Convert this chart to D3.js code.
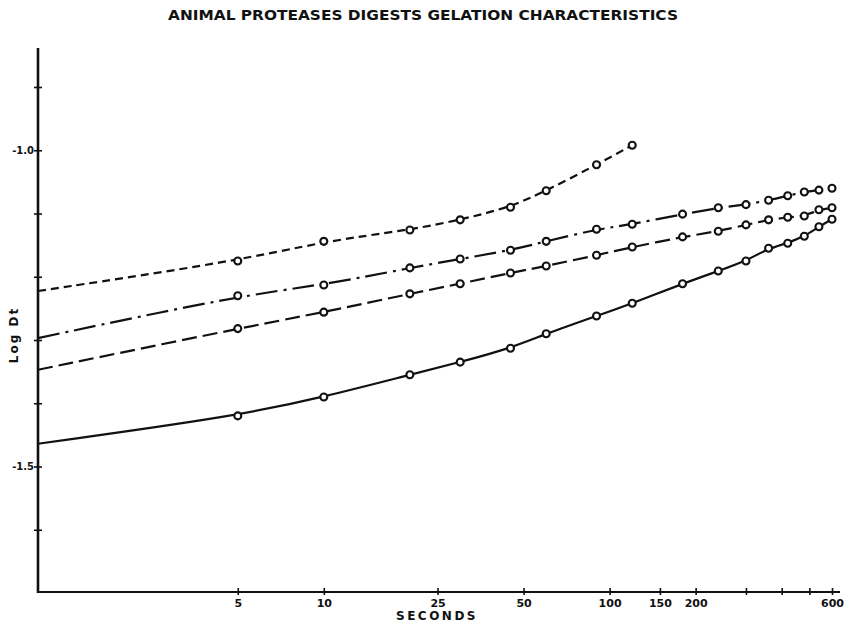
<!DOCTYPE html>
<html>
<head>
<meta charset="utf-8">
<script src="https://cdn.jsdelivr.net/npm/d3@7"></script>
<style>
  html, body { margin: 0; padding: 0; background: #fff; }
  svg { display: block; }
  text { font-family: "DejaVu Sans", "Liberation Sans", sans-serif; font-weight: bold; fill: #111; }
</style>
</head>
<body>
<svg id="chart" width="848" height="625"></svg>
<script>
// Gelation time points (seconds)
const timesEarly = [5, 10, 20, 30, 45, 60, 90, 120];
const timesFull = [5, 10, 20, 30, 45, 60, 90, 120, 180, 240, 300, 360, 420, 480, 540, 600];

// Log Dt readings per digest
const seriesA = [-1.175, -1.144, -1.126, -1.110, -1.090, -1.064, -1.023, -0.992];
const seriesB = [-1.230, -1.213, -1.186, -1.172, -1.158, -1.144, -1.125, -1.117,
                 -1.101, -1.091, -1.086, -1.079, -1.072, -1.066, -1.063, -1.060];
const seriesC = [-1.282, -1.256, -1.227, -1.211, -1.194, -1.183, -1.166, -1.153,
                 -1.137, -1.128, -1.118, -1.110, -1.106, -1.104, -1.094, -1.091];
const seriesD = [-1.420, -1.390, -1.355, -1.335, -1.313, -1.290, -1.262, -1.242,
                 -1.211, -1.191, -1.175, -1.155, -1.147, -1.136, -1.121, -1.109];

// Fitted curve values extrapolated back to t = 1 s
const curveStart = [-1.2225, -1.297, -1.347, -1.464];

// Axis ticks
const xTicks = [5, 10, 25, 50, 100, 150, 200, 300, 400, 500, 600];
const xTickLabels = ["5", "10", "25", "50", "100", "150", "200", "", "", "", "600"];
const yTicks = [-0.9, -1.0, -1.1, -1.2, -1.3, -1.4, -1.5, -1.6];
const yTickLabels = ["", "-1.0", "", "", "", "", "-1.5", ""];

const svg = d3.select("#chart");

const x = d3.scaleLog().domain([1, 600]).range([38, 832]);
const y = d3.scaleLinear().domain([-1.7, -0.9]).range([593, 87]);

// Title
svg.append("text")
  .attr("x", 168).attr("y", 20)
  .attr("textLength", 510).attr("lengthAdjust", "spacingAndGlyphs")
  .style("font-size", "14.5px")
  .text("ANIMAL PROTEASES DIGESTS GELATION CHARACTERISTICS");

// Axis lines
svg.append("line")
  .attr("x1", 38).attr("x2", 38).attr("y1", 48).attr("y2", 593)
  .attr("stroke", "#111").attr("stroke-width", 2.6);
svg.append("line")
  .attr("x1", 37).attr("x2", 840).attr("y1", 592).attr("y2", 592)
  .attr("stroke", "#111").attr("stroke-width", 2.2);

// X axis ticks and labels
const xAxis = d3.axisBottom(x)
  .tickValues(xTicks)
  .tickSize(4)
  .tickFormat((d, i) => xTickLabels[i]);
const gx = svg.append("g").attr("transform", "translate(0,592)").call(xAxis);
gx.select(".domain").remove();
gx.selectAll(".tick line").attr("y1", -4).attr("y2", 3).attr("stroke", "#111").attr("stroke-width", 1.6);
gx.selectAll(".tick text").attr("y", 7).style("font-size", "11px").attr("fill", "#111");

// Y axis ticks and labels
const yAxis = d3.axisLeft(y)
  .tickValues(yTicks)
  .tickSize(4)
  .tickFormat((d, i) => yTickLabels[i]);
const gy = svg.append("g").attr("transform", "translate(38,0)").call(yAxis);
gy.select(".domain").remove();
gy.selectAll(".tick line").attr("x1", -4).attr("x2", 4).attr("stroke", "#111").attr("stroke-width", 1.6);
gy.selectAll(".tick text").attr("x", -4).style("font-size", "10px").attr("fill", "#111");

// Axis titles
svg.append("text")
  .attr("x", 437).attr("y", 620)
  .attr("text-anchor", "middle")
  .style("font-size", "12px").style("letter-spacing", "2.5px")
  .text("SECONDS");
svg.append("text")
  .attr("transform", "translate(18,335) rotate(-90)")
  .attr("text-anchor", "middle")
  .style("font-size", "12px").style("letter-spacing", "2px")
  .text("Log Dt");

// Curves and points
const series = [
  { times: timesEarly, values: seriesA, start: curveStart[0], dash: "8,5" },
  { times: timesFull,  values: seriesB, start: curveStart[1], dash: "22,6,3,6" },
  { times: timesFull,  values: seriesC, start: curveStart[2], dash: "15,6" },
  { times: timesFull,  values: seriesD, start: curveStart[3], dash: null }
];

const line = d3.line()
  .x(d => x(d[0]))
  .y(d => y(d[1]))
  .curve(d3.curveBasis);

series.forEach(s => {
  const pts = s.times.map((t, i) => [t, s.values[i]]);
  const curvePts = [[1, s.start]].concat(pts);
  svg.append("path")
    .datum(curvePts)
    .attr("d", line)
    .attr("fill", "none")
    .attr("stroke", "#111")
    .attr("stroke-width", 2.2)
    .attr("stroke-dasharray", s.dash);

  svg.append("g").selectAll("circle")
    .data(pts)
    .join("circle")
    .attr("cx", d => x(d[0]))
    .attr("cy", d => y(d[1]))
    .attr("r", 3.5)
    .attr("fill", "#fff")
    .attr("stroke", "#111")
    .attr("stroke-width", 2.1);
});
</script>
</body>
</html>
